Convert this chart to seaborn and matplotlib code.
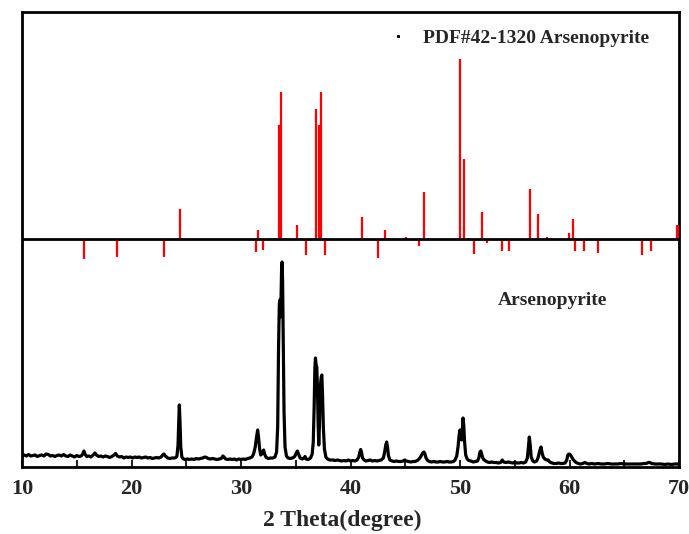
import numpy as np
import pandas as pd
import matplotlib
matplotlib.use("Agg")
import matplotlib.pyplot as plt
from matplotlib.lines import Line2D
import seaborn as sns

two_theta = [
    10.0, 10.2, 10.4, 10.6, 10.8, 11.0, 11.2, 11.4, 11.6, 11.8, 12.0, 12.2, 12.4, 12.6, 12.8,
    13.0, 13.2, 13.4, 13.6, 13.8, 14.0, 14.2, 14.4, 14.6, 14.8, 15.0, 15.2, 15.4, 15.55, 15.65,
    15.75, 15.9, 16.1, 16.3, 16.5, 16.65, 16.8, 17.0, 17.2, 17.4, 17.6, 17.8, 18.0, 18.2, 18.4,
    18.55, 18.7, 18.9, 19.1, 19.3, 19.5, 19.7, 19.9, 20.1, 20.3, 20.5, 20.7, 20.9, 21.1, 21.3,
    21.5, 21.7, 21.9, 22.1, 22.3, 22.5, 22.7, 22.85, 22.97, 23.1, 23.3, 23.5, 23.7, 23.9, 24.05,
    24.15, 24.25, 24.32, 24.37, 24.42, 24.5, 24.6, 24.75, 24.9, 25.1, 25.3, 25.5, 25.7, 25.9, 26.1,
    26.3, 26.5, 26.7, 26.85, 27.0, 27.2, 27.4, 27.6, 27.8, 28.0, 28.2, 28.35, 28.45, 28.6, 28.8,
    29.0, 29.2, 29.4, 29.6, 29.8, 30.0, 30.2, 30.4, 30.6, 30.8, 31.0, 31.15, 31.3, 31.42, 31.52,
    31.6, 31.7, 31.8, 31.9, 32.0, 32.07, 32.15, 32.3, 32.5, 32.7, 32.9, 33.1, 33.25, 33.35, 33.43,
    33.5, 33.55, 33.6, 33.65, 33.7, 33.75, 33.8, 33.86, 33.93, 34.02, 34.15, 34.3, 34.5, 34.7, 34.9,
    35.05, 35.15, 35.25, 35.4, 35.6, 35.75, 35.85, 35.95, 36.15, 36.35, 36.5, 36.6, 36.68, 36.75, 36.8,
    36.86, 36.92, 36.98, 37.04, 37.1, 37.16, 37.22, 37.28, 37.33, 37.38, 37.44, 37.52, 37.62, 37.75, 37.9,
    38.1, 38.4, 38.6, 38.8, 39.0, 39.2, 39.4, 39.6, 39.8, 40.0, 40.2, 40.4, 40.6, 40.75, 40.85,
    40.93, 41.0, 41.1, 41.25, 41.4, 41.6, 41.8, 42.0, 42.2, 42.4, 42.6, 42.8, 43.0, 43.12, 43.22,
    43.3, 43.38, 43.47, 43.6, 43.8, 44.0, 44.2, 44.4, 44.6, 44.8, 44.95, 45.1, 45.3, 45.5, 45.7,
    45.9, 46.1, 46.3, 46.45, 46.6, 46.7, 46.8, 46.9, 47.05, 47.2, 47.4, 47.6, 47.8, 48.0, 48.2,
    48.4, 48.6, 48.8, 49.0, 49.2, 49.4, 49.55, 49.7, 49.82, 49.92, 50.0, 50.08, 50.15, 50.22, 50.28,
    50.34, 50.42, 50.52, 50.65, 50.8, 51.0, 51.2, 51.4, 51.6, 51.72, 51.82, 51.9, 51.98, 52.08, 52.2,
    52.35, 52.5, 52.7, 52.9, 53.1, 53.3, 53.5, 53.7, 53.86, 53.98, 54.2, 54.4, 54.6, 54.8, 55.0,
    55.2, 55.4, 55.6, 55.8, 56.0, 56.15, 56.25, 56.33, 56.41, 56.5, 56.65, 56.8, 57.0, 57.15, 57.3,
    57.4, 57.5, 57.6, 57.75, 57.9, 58.05, 58.2, 58.4, 58.6, 58.8, 59.0, 59.2, 59.4, 59.6, 59.75,
    59.85, 59.93, 60.05, 60.15, 60.3, 60.45, 60.6, 60.8, 61.0, 61.2, 61.4, 61.6, 61.8, 62.0, 62.3,
    62.6, 62.9, 63.2, 63.5, 63.8, 64.1, 64.4, 64.7, 65.0, 65.3, 65.6, 65.9, 66.2, 66.5, 66.8,
    67.0, 67.2, 67.35, 67.5, 67.8, 68.1, 68.4, 68.7, 69.0, 69.3, 69.6, 70.0,
]
intensity = [
    11, 12, 11, 12.5, 11, 11.5, 12, 10.5, 11.5, 12, 11, 13, 12.5, 11, 11.5,
    10.5, 11.5, 12, 11, 12.5, 11, 10.5, 12, 11, 10, 11.5, 10.5, 11, 13, 16,
    13, 10.5, 11, 10, 12, 14, 12, 10.5, 11, 10, 11, 10.5, 9.5, 10.5, 12,
    13.5, 11, 10, 10.5, 9, 10, 9.5, 10, 9, 10, 9.5, 10, 9, 9.5, 10,
    9, 9.5, 8.5, 9, 9.5, 9, 10, 12, 13, 11, 9, 8.5, 9, 9, 9.5,
    11, 22, 48, 62, 48, 20, 10, 8, 7.5, 8, 7.5, 8, 7.5, 8.5, 8,
    8.5, 9, 10, 9.5, 8.5, 8, 8.5, 8, 7.5, 8, 8.5, 11, 10, 8, 7.5,
    8, 7.5, 8, 7, 8, 7.5, 8, 7.5, 8.5, 9, 10, 13, 20, 30, 37,
    30, 18, 12, 13, 16, 17, 13, 9.5, 8.5, 9, 9, 10, 15, 40, 120,
    163, 167, 150, 165, 195, 205, 185, 120, 55, 20, 11, 9, 8.5, 9, 10.5,
    14, 16, 13, 9, 8, 9, 10.5, 8, 7.5, 9, 13, 25, 60, 100, 109,
    102, 100, 80, 45, 22, 40, 70, 85, 90, 92, 75, 40, 18, 10, 8,
    7, 7, 6.5, 7, 6.5, 6, 6.5, 6, 7, 6, 6.5, 6, 7, 10, 15,
    17.5, 15, 9, 7, 6, 6.5, 7, 6, 6.5, 6, 6.5, 7, 9, 15, 22,
    25, 20, 11, 7, 6, 5.5, 6, 5.5, 5.5, 6, 7, 6, 5.5, 5, 5.5,
    5.5, 6.5, 8.5, 11, 14, 15, 13, 9, 6.5, 5.5, 5, 5.5, 5, 5, 5.5,
    5, 5, 5.5, 5, 5, 5.5, 7, 11, 20, 32, 37, 33, 27, 38, 49,
    42, 25, 12, 8, 6.5, 6, 5, 5.5, 6, 9, 15, 16, 13, 9, 7,
    6, 5, 4.5, 5, 4.5, 4.5, 4, 4.5, 7, 5, 4.5, 5, 4.5, 4, 4.5,
    4, 4, 4.5, 4, 5, 9, 20, 30, 22, 10, 6, 5, 6, 10, 17,
    20, 14, 10, 8, 7, 7, 5, 4, 3.5, 3.5, 4, 3.5, 3.5, 4, 7,
    12, 13, 12.5, 11, 8, 6, 4.5, 3.5, 3, 3.5, 4.5, 3.5, 3, 3.5, 3,
    3.5, 3, 3, 3.5, 3, 3, 3, 3.5, 3, 3, 3, 3, 3, 3, 3.5,
    3.5, 4.5, 4.5, 3.5, 3, 3, 3, 2.5, 3, 2.5, 3, 3,
]

# ---- reference card PDF#42-1320 (position, stick length relative to its baseline) ----
pdf_pos = [15.69, 18.65, 22.94, 24.43, 31.34, 31.58, 31.98, 33.50, 33.65, 35.15,
           35.92, 36.85, 37.09, 37.27, 37.69, 41.05, 42.48, 43.12, 45.10, 46.23,
           46.68, 50.03, 50.34, 51.25, 51.98, 52.44, 53.81, 54.45, 56.39, 57.15,
           57.92, 59.95, 60.35, 60.50, 61.32, 62.60, 66.65, 67.41, 69.80, 69.92]
pdf_len = [-20, -18, -18, 30, -13, 9, -11, 113.5, 146.5, 14,
           -16, 130, 113.5, 146.5, -16, 22, -19.5, 8.5, 1.5, -7,
           47, 179.5, 80, -15.5, 27, -4, -12, -12, 50, 25,
           1.5, 5.5, 20, -12, -12, -14, -16, -12, 14, 14]
pdf_offset = 228.5

x_ticks = [10, 20, 30, 40, 50, 60, 70]
x_minor = [15, 25, 35, 45, 55, 65]

sns.set_style("white")
plt.rcParams['font.family'] = ['Liberation Serif', 'DejaVu Serif']
plt.rcParams['font.weight'] = 'bold'

fig = plt.figure(figsize=(6.89, 5.34), dpi=100)
ax = fig.add_axes([22/689, 1-467/534, (679-22)/689, (467-12)/534])

df = pd.DataFrame({"two_theta": two_theta, "intensity": intensity})
sns.lineplot(data=df, x="two_theta", y="intensity", ax=ax, color="black",
             linewidth=2.3, sort=False, estimator=None)

tops = [pdf_offset + v for v in pdf_len]
ax.vlines(pdf_pos, pdf_offset, tops, colors="#ff0000", linewidth=1.6, zorder=3)
ax.axhline(pdf_offset, color="black", linewidth=2.0, zorder=4)

ax.set_xlim(10, 70)
ax.set_ylim(0, 455)
ax.set_xticks(x_ticks)
ax.set_xticks(x_minor, minor=True)
ax.set_xticklabels([str(t) for t in x_ticks])
ax.set_yticks([])
ax.tick_params(axis="x", which="both", direction="in", length=5, width=1.5,
               bottom=True, top=False, pad=9, labelsize=16)
for lab in ax.get_xticklabels():
    lab.set_fontweight("bold")
ax.set_xlabel("2 Theta(degree)", fontsize=17, fontweight="bold", labelpad=6)
ax.xaxis.set_label_coords(0.488, -0.095)
ax.set_ylabel("")
for s in ax.spines.values():
    s.set_visible(True)
    s.set_color("black")
    s.set_linewidth(2.0)

handle = Line2D([], [], marker="s", markersize=1.2, linestyle="none", color="black",
                label="PDF#42-1320 Arsenopyrite")
leg = ax.legend(handles=[handle], loc="upper right", bbox_to_anchor=(0.955, 0.962),
                frameon=False, handlelength=0.6, handletextpad=1.0,
                borderaxespad=0, borderpad=0, prop={"weight": "bold", "size": 14})

ax.text(0.7245, 0.367, "Arsenopyrite", transform=ax.transAxes, fontsize=14,
        fontweight="bold", va="center", ha="left")

fig.savefig("out.png", dpi=100)
